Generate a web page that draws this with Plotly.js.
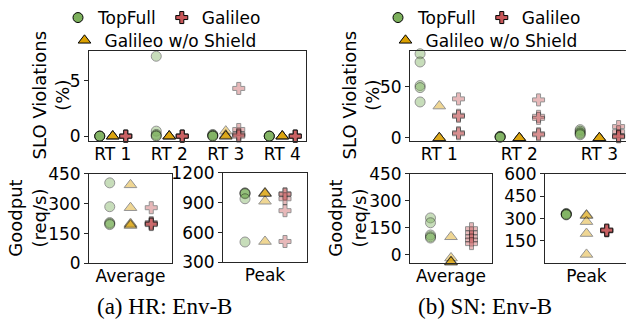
<!DOCTYPE html>
<html>
<head>
<meta charset="utf-8">
<script src="https://cdn.plot.ly/plotly-3.0.1.min.js"></script>
<style>
  html, body { margin: 0; padding: 0; overflow: hidden; background: #fff; }
  #chart { width: 640px; height: 320px; }
</style>
</head>
<body>
<div id="chart"></div>
<script>
// ---- data: five runs per method ----
const methods = ['TopFull', 'Galileo', 'Galileo w/o Shield'];

// (a) HR: Env-B
const hrRtLabels = ['RT 1', 'RT 2', 'RT 3', 'RT 4'];
const hrSloTopFull = [[0, 0, 0, 0, 0], [7.2, 0.45, 0.15, 0.05, 0], [0.15, 0.1, 0.05, 0, 0], [0, 0, 0, 0, 0]];
const hrSloNoShield = [[0, 0, 0, 0, 0], [0, 0, 0, 0, 0], [0.45, 0.1, 0, 0, 0], [0, 0, 0, 0, 0]];
const hrSloGalileo = [[0, 0, 0, 0, 0], [0, 0, 0, 0, 0], [4.3, 0.6, 0.2, 0.1, 0], [0, 0, 0, 0, 0]];
const hrAvgTopFull = [405, 285, 205, 200, 195];
const hrAvgNoShield = [395, 280, 200, 195, 190];
const hrAvgGalileo = [280, 205, 200, 198, 195];
const hrPeakTopFull = [1000, 995, 990, 940, 505];
const hrPeakNoShield = [1000, 995, 990, 915, 510];
const hrPeakGalileo = [990, 985, 940, 820, 510];

// (b) SN: Env-B
const snRtLabels = ['RT 1', 'RT 2', 'RT 3'];
const snSloTopFull = [[82, 74, 51, 49, 35], [1.5, 1.2, 1, 0.8, 0.5], [8, 6.5, 5, 4, 3]];
const snSloNoShield = [[31, 0, 0, 0, 0], [0, 0, 0, 0, 0], [0, 0, 0, 0, 0]];
const snSloGalileo = [[38, 22, 21, 5, 4], [37, 21, 19, 4, 3], [11, 6, 2, 1.5, 1]];
const snAvgTopFull = [205, 178, 110, 100, 93];
const snAvgNoShield = [100, -18, -38, -40, -42];
const snAvgGalileo = [145, 122, 100, 82, 62];
const snPeakTopFull = [335, 332, 330, 328, 325];
const snPeakNoShield = [325, 320, 280, 200, 60];
const snPeakGalileo = [222, 220, 220, 218, 225];

// ---- styling ----
const W = 640, H = 320;
const FONT = 'DejaVu Sans, sans-serif';
const INK = '#262626';
const style = {
  'TopFull': { symbol: 'circle', color: '#7cb05c', size: 10 },
  'Galileo': { symbol: 'cross', color: '#c8585a', size: 10 },
  'Galileo w/o Shield': { symbol: 'triangle-up', color: '#dba000', size: 11 }
};
const RUN_ALPHA = 0.42;

const xd = (a, b) => [a / W, Math.min(b / W, 1)];
const yd = (top, bottom) => [1 - bottom / H, 1 - top / H];

function axis(domain, range, extra) {
  return Object.assign({
    domain: domain, range: range, showline: true, mirror: true,
    linecolor: INK, linewidth: 1, ticks: 'outside', ticklen: 4,
    tickcolor: INK, showgrid: false, zeroline: false, fixedrange: true,
    tickfont: { family: FONT, size: 17, color: '#000' }
  }, extra || {});
}

const traces = [];

function runs(name, xs, ys, xa, ya) {
  const s = style[name];
  traces.push({
    type: 'scatter', mode: 'markers', x: xs, y: ys, xaxis: xa, yaxis: ya,
    showlegend: false, cliponaxis: false, hoverinfo: 'skip',
    marker: { symbol: s.symbol, size: s.size, color: s.color, opacity: RUN_ALPHA,
              line: { color: '#000', width: 1 } }
  });
}

// one strip per RT class, methods side by side
function sloPanel(seriesByMethod, offset, xa, ya) {
  const order = [['TopFull', -offset], ['Galileo w/o Shield', 0], ['Galileo', offset]];
  order.forEach(([name, dx]) => {
    const data = seriesByMethod[name];
    const xs = [], ys = [];
    data.forEach((vals, i) => vals.forEach(v => { xs.push(i + dx); ys.push(v); }));
    runs(name, xs, ys, xa, ya);
  });
}

function goodPanel(seriesByMethod, xa, ya) {
  const order = [['TopFull', -1], ['Galileo w/o Shield', 0], ['Galileo', 1]];
  order.forEach(([name, x]) => {
    const vals = seriesByMethod[name];
    runs(name, vals.map(() => x), vals, xa, ya);
  });
}

sloPanel({ 'TopFull': hrSloTopFull, 'Galileo w/o Shield': hrSloNoShield, 'Galileo': hrSloGalileo }, 0.23, 'x', 'y');
goodPanel({ 'TopFull': hrAvgTopFull, 'Galileo w/o Shield': hrAvgNoShield, 'Galileo': hrAvgGalileo }, 'x2', 'y2');
goodPanel({ 'TopFull': hrPeakTopFull, 'Galileo w/o Shield': hrPeakNoShield, 'Galileo': hrPeakGalileo }, 'x3', 'y3');
sloPanel({ 'TopFull': snSloTopFull, 'Galileo w/o Shield': snSloNoShield, 'Galileo': snSloGalileo }, 0.24, 'x4', 'y4');
goodPanel({ 'TopFull': snAvgTopFull, 'Galileo w/o Shield': snAvgNoShield, 'Galileo': snAvgGalileo }, 'x5', 'y5');
goodPanel({ 'TopFull': snPeakTopFull, 'Galileo w/o Shield': snPeakNoShield, 'Galileo': snPeakGalileo }, 'x6', 'y6');

// legend entries (two rows above each group)
function legendEntry(name, legendId, xa, ya) {
  const s = style[name];
  traces.push({
    type: 'scatter', mode: 'markers', x: [null], y: [null], xaxis: xa, yaxis: ya,
    name: name, legend: legendId, showlegend: true, hoverinfo: 'skip',
    marker: { symbol: s.symbol, size: s.size, color: s.color, line: { color: '#000', width: 1 } }
  });
}
legendEntry('TopFull', 'legend', 'x', 'y');
legendEntry('Galileo', 'legend', 'x', 'y');
legendEntry('Galileo w/o Shield', 'legend2', 'x', 'y');
legendEntry('TopFull', 'legend3', 'x4', 'y4');
legendEntry('Galileo', 'legend3', 'x4', 'y4');
legendEntry('Galileo w/o Shield', 'legend4', 'x4', 'y4');

function legendBox(cx, cy) {
  return {
    orientation: 'h', x: cx / W, y: 1 - cy / H, xanchor: 'center', yanchor: 'middle',
    font: { family: FONT, size: 17, color: '#000' }, bgcolor: 'rgba(0,0,0,0)',
    borderwidth: 0, itemclick: false, itemdoubleclick: false, tracegroupgap: 0
  };
}

const idx = n => Array.from({ length: n }, (_, i) => i);
// category labels sit close under the frame
const XTICK = { ticks: '', ticklabelstandoff: -3 };

const layout = {
  width: W, height: H, margin: { l: 0, r: 0, t: 0, b: 0 },
  paper_bgcolor: '#fff', plot_bgcolor: '#fff',
  xaxis: axis(xd(89, 306), [-0.42, 3.42], Object.assign({ anchor: 'y', tickvals: idx(hrRtLabels.length), ticktext: hrRtLabels }, XTICK)),
  yaxis: axis(yd(49, 140), [-0.45, 7.7], { anchor: 'x', tickvals: [0, 5] }),
  xaxis2: axis(xd(89, 172), [-2, 2], Object.assign({ anchor: 'y2', tickvals: [0], ticktext: ['Average'] }, XTICK)),
  yaxis2: axis(yd(173, 263), [0, 450], { anchor: 'x2', tickvals: [0, 150, 300, 450] }),
  xaxis3: axis(xd(223, 307), [-2.1, 2.1], Object.assign({ anchor: 'y3', tickvals: [0], ticktext: ['Peak'] }, XTICK)),
  yaxis3: axis(yd(172, 262), [300, 1200], { anchor: 'x3', tickvals: [300, 600, 900, 1200] }),
  xaxis4: axis(xd(410, 629), [-0.366, 2.37], Object.assign({ anchor: 'y4', tickvals: idx(snRtLabels.length), ticktext: snRtLabels }, XTICK)),
  yaxis4: axis(yd(49, 140), [-3.2, 85], { anchor: 'x4', tickvals: [0, 50] }),
  xaxis5: axis(xd(410, 492), [-2, 2], Object.assign({ anchor: 'y5', tickvals: [0], ticktext: ['Average'] }, XTICK)),
  yaxis5: axis(yd(173, 263), [-48, 450], { anchor: 'x5', tickvals: [0, 150, 300, 450] }),
  xaxis6: axis(xd(545, 628), [-2.05, 2.05], Object.assign({ anchor: 'y6', tickvals: [0], ticktext: ['Peak'] }, XTICK)),
  yaxis6: axis(yd(173, 263), [0, 600], { anchor: 'x6', tickvals: [150, 300, 450, 600] }),
  legend: legendBox(162, 16),
  legend2: legendBox(163, 39),
  legend3: legendBox(482, 16),
  legend4: legendBox(484, 39),
  annotations: [
    { text: 'SLO Violations<br>(%)', x: 51 / W, y: 1 - 94 / H },
    { text: 'Goodput<br>(req/s)', x: 27 / W, y: 1 - 218 / H },
    { text: 'SLO Violations<br>(%)', x: 361 / W, y: 1 - 94 / H },
    { text: 'Goodput<br>(req/s)', x: 347 / W, y: 1 - 218 / H }
  ].map(a => Object.assign(a, {
    xref: 'paper', yref: 'paper', xanchor: 'center', yanchor: 'middle',
    textangle: -90, showarrow: false, font: { family: FONT, size: 18, color: '#000' }
  })).concat([
    { text: '(a) HR: Env-B', x: 164 / W, y: 1 - 306 / H },
    { text: '(b) SN: Env-B', x: 485 / W, y: 1 - 306 / H }
  ].map(a => Object.assign(a, {
    xref: 'paper', yref: 'paper', xanchor: 'center', yanchor: 'middle',
    showarrow: false, font: { family: 'Liberation Serif, serif', size: 23, color: '#000' }
  })))
};

Plotly.newPlot('chart', traces, layout, { staticPlot: true, displayModeBar: false });
</script>
</body>
</html>
